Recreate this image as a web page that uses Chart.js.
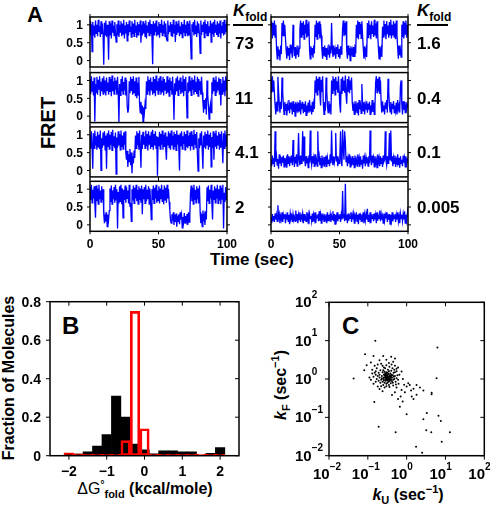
<!DOCTYPE html>
<html>
<head>
<meta charset="utf-8">
<script src="https://cdn.jsdelivr.net/npm/chart.js"></script>
<style>
body { margin: 0; background: #fff; }
#wrap { position: relative; width: 496px; height: 512px; overflow: hidden;
        font-family: "Liberation Sans", Arial, sans-serif; font-weight: bold; color: #000; }
canvas { position: absolute; }
.t { position: absolute; white-space: nowrap; line-height: 1; }
.rot { text-align: center; transform: rotate(-90deg); }
.bar { position: absolute; height: 1.5px; background: #000; }
</style>
</head>
<body>
<div id="wrap">
  <div class="t" style="left:27px;top:4px;font-size:22px">A</div>
  <div class="t rot" style="left:-2px;top:113px;width:100px;font-size:20px">FRET</div>

  <div class="t" style="left:233px;top:2px"><i style="font-size:17px">K</i><span style="font-size:12px;position:relative;top:5px">fold</span></div>
  <div class="bar" style="left:233px;top:24px;width:30px"></div>
  <div class="t" style="left:417px;top:2px"><i style="font-size:17px">K</i><span style="font-size:12px;position:relative;top:5px">fold</span></div>
  <div class="bar" style="left:417px;top:24px;width:31px"></div>

  <div class="t" style="left:152px;top:251px;width:200px;text-align:center;font-size:17px">Time (sec)</div>

  <div class="t" style="left:62px;top:314px;font-size:24px">B</div>
  <div class="t rot" style="left:-91px;top:370px;width:200px;font-size:16px">Fraction of Molecules</div>
  <div class="t" style="left:45px;top:481px;width:200px;text-align:center;font-size:16px"><span style="font-weight:normal">ΔG</span><span style="font-size:10px;position:relative;top:-6px">°</span><span style="font-size:11px;position:relative;top:4px">fold</span> (kcal/mole)</div>

  <div class="t" style="left:342px;top:314px;font-size:24px">C</div>
  <div class="t" style="left:308px;top:487px;width:200px;text-align:center;font-size:16px"><i>k</i><span style="font-size:11px;position:relative;top:4px">U</span> (sec<span style="font-size:11px;position:relative;top:-7px">−1</span>)</div>
  <div class="t rot" style="left:181px;top:377px;width:200px;font-size:16px"><i>k</i><span style="font-size:11px;position:relative;top:4px">F</span> (sec<span style="font-size:11px;position:relative;top:-7px">−1</span>)</div>
</div>

<script>
// ---- panel A: FRET traces, two values per second over 100 s ----
const fret73 = [1.1,0.72,1.02,0.25,1.08,0.7,0.98,0.64,1.12,0.76,1.0,0.68,1.14,0.8,0.96,0.66,1.1,0.74,1.04,0.7,
  -0.12,1.06,0.72,1.12,0.66,1.0,0.8,0.02,1.1,0.7,1.04,0.62,1.12,0.78,0.98,0.7,1.08,0.76,0.52,1.02,
  0.7,1.12,0.66,1.0,0.8,1.1,0.68,1.04,0.74,1.14,0.62,0.98,0.76,1.08,0.55,1.02,0.7,1.12,0.8,0.96,
  0.66,1.1,0.74,1.04,0.68,1.14,0.78,0.98,0.64,1.08,0.72,1.02,0.8,1.12,0.5,1.0,0.7,1.1,0.76,1.04,
  0.68,1.12,0.62,0.98,0.78,1.08,0.7,1.14,0.74,1.02,0.66,-0.1,1.1,0.72,1.04,0.8,1.12,0.68,0.96,0.74,
  1.08,0.64,1.02,0.78,1.14,0.7,1.0,0.76,1.1,0.68,1.04,0.62,0.55,1.12,0.74,0.98,0.8,1.08,0.7,1.02,
  0.66,1.14,0.76,1.0,0.52,1.1,0.72,1.04,0.8,1.12,0.68,0.96,0.74,1.08,0.64,1.02,0.78,1.14,0.7,1.0,
  0.76,1.1,0.68,1.04,0.72,1.12,0.62,0.05,1.02,0.8,1.08,0.7,1.14,0.74,0.98,0.66,1.1,0.78,1.04,0.7,
  0.2,1.12,0.72,1.0,0.8,1.08,0.64,1.14,0.76,1.02,0.7,1.1,0.68,0.96,0.78,1.12,0.52,1.04,0.74,1.08,
  0.66,1.14,0.8,1.0,0.72,1.1,0.68,1.04,0.76,1.12,0.62,0.98,0.78,1.08,0.7,1.14,0.74,1.02,0.8,1.1];
const fret11 = [1.05,0.62,1.12,0.7,0.98,0.58,1.08,-0.15,0.9,0.66,1.1,0.6,1.02,0.74,1.12,0.56,0.96,0.7,1.06,0.62,
  1.12,0.66,1.0,0.58,1.08,0.72,0.94,0.6,1.1,0.68,1.04,0.56,1.14,0.7,0.98,0.62,1.08,0.74,1.0,0.6,
  1.1,0.66,-0.18,0.9,0.58,1.04,0.7,1.12,0.62,0.96,0.72,1.08,0.58,1.02,0.3,0.1,0.2,0.98,0.64,1.1,
  0.72,1.04,0.6,1.12,0.66,0.98,0.56,1.08,0.5,0.94,0.6,1.1,0.35,0.1,0.4,0.05,0.3,-0.15,0.25,0.1,
  0.35,0.2,0.98,0.62,1.12,0.7,1.02,0.58,1.08,0.74,0.96,0.6,1.1,0.66,1.04,0.56,1.14,0.72,0.98,0.62,
  1.06,0.7,1.12,0.6,1.0,0.68,1.1,0.58,1.04,0.74,0.94,0.62,1.12,0.66,1.02,0.56,1.08,0.72,0.98,0.6,
  1.1,0.66,-0.1,0.92,0.6,1.06,0.7,1.12,0.58,1.0,0.74,1.08,0.62,0.96,0.68,1.14,0.56,1.04,0.72,1.1,
  0.6,-0.05,0.94,0.66,1.12,0.7,1.0,0.58,1.08,0.74,1.02,0.6,1.14,0.68,0.96,0.62,1.1,0.56,1.04,0.72,
  0.98,0.6,1.1,0.66,0.4,0.1,0.45,0.2,0.5,0.05,1.0,0.6,0.3,-0.08,0.2,0.35,0.1,0.95,0.62,1.08,
  0.7,1.02,0.58,1.12,0.66,0.96,0.74,1.08,0.6,1.04,0.3,0.92,0.62,1.1,0.68,1.0,0.56,1.12,0.72,1.06];
const fret41 = [1.0,0.6,1.1,0.68,0.05,1.04,0.62,1.12,0.7,0.96,0.58,1.08,0.66,1.0,0.6,1.12,0.0,0.9,0.64,1.06,
  0.7,1.1,0.58,0.98,0.05,1.04,0.66,1.12,0.6,1.0,0.72,1.08,0.56,1.14,0.68,0.96,0.62,1.06,-0.1,0.92,
  0.64,1.1,0.7,1.02,0.58,1.12,0.66,0.98,0.6,1.06,0.72,1.1,0.5,0.3,0.55,0.1,0.45,0.25,0.6,0.15,
  0.5,-0.08,0.4,0.2,0.55,0.35,0.98,0.62,1.1,0.7,1.04,0.58,1.12,0.66,0.08,1.0,0.6,1.08,0.72,0.96,
  0.62,1.12,0.68,1.02,0.56,1.1,0.74,0.98,0.6,1.08,0.66,1.14,0.58,1.02,0.7,1.1,0.62,0.96,-0.15,0.94,
  0.68,1.08,0.6,1.02,0.72,1.12,0.58,1.0,0.66,1.06,0.62,0.3,0.95,0.7,1.1,0.64,1.04,0.58,1.12,0.7,
  0.98,0.6,1.08,0.66,1.02,0.56,1.12,0.72,1.0,0.62,0.0,1.04,0.68,1.1,0.6,0.96,0.74,1.08,0.58,1.02,
  0.66,1.12,0.62,0.98,0.7,1.06,0.56,1.1,0.68,1.0,0.6,1.14,0.72,1.02,0.64,1.08,0.45,-0.02,0.9,0.62,
  1.04,0.7,1.1,0.58,0.05,0.98,0.66,1.08,0.6,1.02,0.72,1.12,0.58,1.0,0.66,1.06,0.1,0.94,0.62,1.1,
  0.3,1.04,0.68,1.12,0.6,0.98,0.72,1.08,0.58,1.02,0.64,1.1,0.7,0.2,1.04,0.62,1.12,0.66,1.0,0.7];
const fret2 = [1.05,0.7,1.12,0.62,0.98,0.74,1.08,0.6,0.2,1.1,0.66,1.02,0.58,1.12,0.72,0.96,0.64,1.08,0.7,1.0,
  0.3,0.05,0.25,0.1,0.35,-0.05,0.28,0.15,0.4,1.02,0.64,1.1,0.58,0.96,0.72,1.06,0.62,1.12,0.7,1.0,
  -0.1,0.92,0.6,1.08,0.66,1.12,0.58,1.02,0.2,0.98,0.7,1.1,0.62,1.06,0.74,0.96,0.6,1.12,0.5,0.62,
  0.1,1.0,0.68,1.1,0.6,1.04,0.74,1.12,0.66,0.98,0.58,1.08,0.7,1.02,0.62,1.1,0.3,1.0,0.72,1.06,
  0.6,1.12,0.66,0.98,0.72,1.08,0.58,1.02,0.64,0.15,1.0,0.7,1.1,0.6,1.04,0.74,1.12,0.62,0.96,0.68,
  1.08,0.6,1.02,0.72,1.12,0.66,0.98,0.58,1.1,0.7,1.04,0.62,1.12,0.74,1.0,0.64,0.4,0.12,0.05,0.3,
  0.12,0.35,0.0,0.28,0.08,0.32,-0.05,0.25,0.1,0.3,0.02,0.35,0.15,0.28,-0.08,0.22,0.1,0.33,0.05,0.25,
  0.12,0.3,0.0,0.35,0.08,0.25,0.9,1.1,0.66,1.04,0.58,1.12,0.7,0.98,0.62,1.08,0.72,1.02,0.6,1.1,
  0.35,0.05,0.3,-0.05,0.4,0.1,0.25,0.0,0.38,0.15,1.05,0.66,1.1,0.6,0.98,0.74,1.12,0.62,0.15,0.96,
  0.7,1.08,0.62,1.02,0.74,1.12,0.6,1.0,0.68,1.1,0.58,1.04,0.72,1.12,-0.1,0.9,0.64,1.06,0.7,1.0];
const fret16 = [0.9,1.1,0.62,1.05,0.7,1.12,0.66,1.0,0.35,0.05,0.4,0.12,0.3,0.0,0.42,0.18,1.05,0.68,1.12,0.7,
  1.0,0.62,0.3,0.05,0.4,0.15,0.35,0.02,0.45,0.2,0.3,0.08,1.0,0.4,0.12,0.38,0.05,0.3,0.18,0.42,
  0.1,0.35,0.9,1.12,0.66,1.05,0.72,1.1,0.6,1.0,0.76,1.14,0.64,1.04,0.7,1.1,0.3,0.05,0.4,0.15,
  0.35,0.08,0.42,0.2,1.0,0.66,1.12,0.6,1.06,0.74,1.1,0.62,1.02,0.7,0.3,0.05,0.38,0.15,0.42,0.1,
  0.35,0.02,0.3,0.18,0.45,0.08,0.4,0.2,1.05,0.35,0.1,0.42,0.15,0.3,0.05,0.38,0.2,0.45,0.1,0.32,
  0.05,0.4,0.18,0.35,0.9,1.12,0.68,1.05,0.72,1.1,0.3,0.05,0.42,0.15,0.35,0.0,0.4,0.2,0.3,0.1,
  0.38,0.12,0.45,0.2,1.0,0.66,1.12,0.6,1.08,0.74,1.02,0.62,1.1,0.7,0.35,0.05,0.4,0.15,0.3,0.1,
  1.05,0.64,1.12,0.72,1.0,0.6,1.1,0.76,0.98,0.66,1.14,0.7,1.04,0.62,1.1,0.74,0.35,0.05,0.4,0.15,
  0.3,0.1,0.95,0.66,1.12,0.7,1.02,0.6,1.1,0.74,0.98,0.64,1.08,0.72,1.14,0.62,1.0,0.7,1.1,0.66,
  1.04,0.6,1.12,0.72,0.35,0.05,0.42,0.15,0.3,0.1,1.0,0.66,1.1,0.62,1.06,0.74,1.12,0.64,1.0,0.7];
const fret04 = [1.05,0.66,1.12,0.7,1.0,0.62,0.3,0.05,0.4,0.15,1.1,0.7,0.35,0.1,0.4,0.2,1.08,0.66,0.3,0.05,
  0.4,0.15,0.35,0.02,0.3,0.18,0.45,0.08,0.38,0.2,0.3,0.05,0.42,0.12,0.35,0.0,0.4,0.18,0.3,0.1,
  0.38,0.15,0.45,0.05,0.3,0.2,0.4,0.08,0.35,0.12,0.42,0.02,0.3,0.18,0.38,0.1,0.45,0.15,0.3,0.05,
  0.4,0.12,0.35,0.2,1.0,0.66,1.12,0.6,1.05,0.72,1.1,0.62,0.3,1.02,0.68,1.12,0.35,0.05,0.4,0.15,
  1.08,0.7,0.3,0.1,0.42,0.2,0.35,0.05,1.0,0.64,1.12,0.72,1.05,0.6,1.1,0.74,0.98,0.66,1.12,0.7,
  0.3,0.1,1.05,0.62,1.1,0.72,1.0,0.66,1.14,0.6,0.35,1.04,0.7,1.12,0.64,1.0,0.74,1.08,0.4,0.15,
  0.35,0.05,0.42,0.18,0.3,0.1,0.38,0.02,0.45,0.2,0.3,0.08,0.9,0.35,0.15,0.4,0.05,0.32,0.2,0.42,
  0.1,0.35,0.18,0.4,0.05,0.3,0.2,0.45,0.12,0.38,0.05,0.3,0.95,1.12,0.66,1.05,0.7,1.1,0.62,1.0,
  0.35,0.1,0.42,0.15,0.3,0.05,0.38,0.2,0.45,0.1,1.05,0.7,0.3,0.12,0.4,0.05,0.35,0.2,0.42,0.1,
  0.3,0.15,0.38,0.05,0.45,0.2,0.3,0.1,0.85,1.0,0.35,0.05,0.42,0.18,0.3,0.1,0.4,0.2,0.32,0.25];
const fret01 = [0.3,0.12,0.42,0.2,0.35,0.1,1.1,0.25,0.4,0.15,0.32,0.05,0.45,0.2,0.3,0.12,0.38,0.22,0.42,0.1,
  0.35,0.18,0.3,0.08,0.45,0.2,0.4,0.12,0.32,0.22,0.42,0.15,0.85,0.3,0.1,0.38,0.2,0.45,0.12,0.3,
  1.05,0.3,0.15,0.42,0.2,0.35,1.1,0.25,0.95,0.3,0.12,0.4,0.2,0.35,0.08,0.42,0.22,1.12,0.3,0.15,
  0.4,0.2,0.35,0.1,0.45,0.22,0.3,0.12,1.1,0.25,0.4,0.15,0.35,0.08,0.42,0.2,0.3,0.12,0.38,0.22,
  0.42,0.1,0.35,0.2,0.3,0.12,0.45,0.2,1.12,0.3,0.15,0.4,0.22,0.35,1.05,0.25,0.4,0.12,0.3,0.2,
  0.38,1.1,0.3,0.12,1.15,0.6,0.3,1.1,0.8,0.25,0.4,0.12,0.35,0.2,0.45,0.1,0.3,0.22,0.4,0.15,
  0.35,0.08,0.42,0.2,0.3,0.12,0.45,0.22,0.35,0.1,0.4,0.18,0.3,0.05,0.42,0.2,0.35,0.12,0.38,0.25,
  0.3,0.12,0.4,0.2,1.12,0.3,0.15,0.42,0.22,0.35,0.1,0.4,0.2,0.3,0.08,0.45,0.22,0.35,0.12,0.4,
  0.2,0.35,0.1,0.42,0.25,0.3,1.1,0.3,0.15,0.4,0.2,0.35,1.05,0.3,1.12,0.25,0.4,0.12,0.35,0.2,
  0.42,0.1,0.3,0.22,0.45,0.15,0.35,0.08,0.4,0.2,0.3,0.12,0.42,0.22,0.35,0.1,0.4,0.18,0.3,0.25];
const fret0005 = [0.2,0.05,0.3,0.12,0.25,0.08,0.32,0.15,0.28,0.1,0.55,0.2,0.3,0.05,0.25,0.15,0.35,0.08,0.28,0.18,
  0.3,0.05,0.25,0.15,0.35,0.1,0.28,0.02,0.32,0.18,0.25,0.08,0.3,0.15,0.22,0.1,0.4,0.12,0.3,0.05,
  0.28,0.15,0.35,0.08,0.25,0.18,0.32,0.05,0.3,0.12,0.22,0.1,0.35,0.15,0.28,0.02,0.3,0.18,0.25,0.1,
  0.32,0.08,0.28,0.15,0.35,0.05,0.25,0.2,0.3,0.1,0.38,0.12,0.28,0.05,0.32,0.18,0.25,0.1,0.3,0.15,
  0.22,0.05,0.35,0.12,0.28,0.18,0.3,0.08,0.25,0.15,0.38,0.1,0.3,0.02,0.28,0.15,0.35,0.1,0.25,0.18,
  0.3,0.08,0.28,0.15,0.95,0.2,0.3,0.1,1.15,0.15,0.28,0.05,0.32,0.12,0.25,0.18,0.35,0.08,0.28,0.15,
  0.3,0.05,0.25,0.18,0.35,0.1,0.28,0.02,0.32,0.15,0.25,0.1,0.3,0.18,0.35,0.05,0.28,0.12,0.3,0.15,
  0.45,0.1,0.28,0.15,0.35,0.05,0.25,0.18,0.3,0.1,0.32,0.15,0.28,0.05,0.35,0.12,0.25,0.18,0.4,0.1,
  0.3,0.15,0.25,0.05,0.32,0.12,0.28,0.18,0.35,0.08,0.25,0.15,0.3,0.02,0.28,0.12,0.35,0.1,0.25,0.18,
  0.3,0.08,0.28,0.15,0.35,0.1,0.25,0.05,0.32,0.18,0.28,0.1,0.3,0.15,0.38,0.05,0.28,0.12,0.3,0.5];
const kfoldLeft = ['73', '11', '4.1', '2'];
const kfoldRight = ['1.6', '0.4', '0.1', '0.005'];
const fretTicks = [0, 0.5, 1];
const fretTickLabels = ['0', '0.5', '1'];
const timeTicks = [0, 50, 100];
const timeTickLabels = ['0', '50', '100'];

// ---- panel B: histogram of dG fold ----
const dGBins = [-2, -1.75, -1.5, -1.25, -1, -0.75, -0.5, -0.25, 0, 0.25, 0.5, 0.75, 1, 1.25, 1.5, 1.75, 2];
const fracBlack = [0.01, 0.008, 0.02, 0.05, 0.11, 0.31, 0.2, 0.06, 0.03, 0.01, 0.025, 0.025, 0.02, 0.02, 0, 0.012, 0.042];
const fracRed = [0.015, 0.01, 0.008, 0.008, 0.008, 0.008, 0.078, 0.75, 0.14, 0.008, 0.008, 0.008, 0.008, 0.008, 0.008, 0.008, 0.008];
const dGTicks = [-2, -1, 0, 1, 2];
const dGTickLabels = ['\u22122', '\u22121', '0', '1', '2'];
const fracTicks = [0, 0.2, 0.4, 0.6, 0.8];
const fracTickLabels = ['0', '0.2', '0.4', '0.6', '0.8'];

// ---- panel C: folding vs unfolding rates ----
const kU = [0.156,0.085,0.043,6.2,5.9,0.081,0.093,0.14,0.25,0.5,
  0.147,0.18,0.19,0.52,1.0,1.75,2.5,3.2,4.3,2.7,
  3.3,6.6,7.6,13,8,4.4,4.4,2.7,1.8,1.5,
  1.2,1.5,0.74,0.79,0.67,0.86,1.0,1.1,1.8,1.35,
  0.74,0.6,0.7,0.9,2.2,1.3,0.55,0.62,0.12,0.2,
  0.3,0.35,0.4,0.13,0.11,0.16,0.45,0.6,0.55,0.65,
  0.8,0.17,0.15,0.22,0.12,0.14,0.2,0.24,0.5,0.42,
  0.3,0.32,0.28,0.35,0.31,0.27,0.33,0.36,0.29,0.34,
  0.26,0.38,0.3,0.25,0.4,0.37,0.32,0.28,0.23,0.42,
  0.3,0.35,0.27,0.45,0.22,0.2,0.24,0.38,0.41,0.33,
  0.29,0.31,0.34,0.36,0.26,0.39,0.3,0.35,0.44,0.48,
  0.5,0.46,0.2,0.19,0.21,0.18,0.17,0.25,0.28,0.33,
  0.4,0.43,0.52,0.55,0.5,0.3,0.36,0.25,0.22,0.27,
  0.32,0.37,0.34,0.29,0.31,0.28,0.33,0.35,0.3,0.32,
  0.26,0.38,0.4,0.24,0.23,0.47,0.44,0.42,0.19,0.16,
  0.16,0.21,0.26,0.36,0.3,0.48,0.58,0.6,0.53,0.45,
  0.39,0.27,0.14,0.15,0.13,0.18,0.24,0.41,0.5,0.55];
const kF = [10,4.4,1.03,6.6,1.05,1.7,2.3,3.97,4.0,3.4,
  0.25,0.64,0.057,0.041,0.12,0.017,0.012,0.046,0.041,0.089,
  0.13,0.11,0.08,0.041,0.023,0.4,0.44,0.5,0.39,0.56,
  0.7,0.3,0.52,0.26,0.19,0.71,0.64,0.78,0.7,0.35,
  1.57,0.3,0.35,0.45,0.6,0.5,0.6,0.75,2.7,3.1,
  3.2,2.6,3.8,1.4,1.1,0.85,2.8,2.0,1.6,1.3,
  1.0,1.9,2.2,2.5,0.95,0.75,0.55,0.48,0.45,0.38,
  1.1,1.2,1.0,1.05,0.95,1.25,1.3,1.15,0.9,0.85,
  1.1,1.0,1.35,1.0,1.2,0.9,0.8,1.4,1.2,1.1,
  1.5,1.6,0.8,0.95,0.95,1.1,1.5,1.4,1.3,1.0,
  1.18,1.06,1.12,0.98,0.92,1.08,0.75,0.7,0.8,1.0,
  1.2,1.45,1.3,0.9,0.8,1.2,1.0,1.7,1.9,1.75,
  1.65,1.9,0.85,1.05,1.5,0.65,0.62,0.7,0.65,1.55,
  1.45,1.25,1.38,1.28,1.22,1.12,0.92,0.88,1.02,1.08,
  1.32,1.18,0.95,0.85,1.05,1.15,1.25,0.88,1.45,1.3,
  1.6,1.7,2.0,2.1,2.3,1.75,1.25,0.95,0.72,0.68,
  0.78,0.6,1.15,1.45,1.75,2.4,2.2,2.4,2.2,1.85];
const rateTicks = [0.01, 0.1, 1, 10, 100];
const rateExp = ['\u22122', '\u22121', '0', '1', '2'];

const FONT = '"Liberation Sans", Arial, sans-serif';
const wrap = document.getElementById('wrap');

function makeCanvas(left, top, w, h) {
  const c = document.createElement('canvas');
  c.width = w; c.height = h;
  c.style.left = left + 'px'; c.style.top = top + 'px';
  c.style.width = w + 'px'; c.style.height = h + 'px';
  wrap.appendChild(c);
  return c;
}

// box, tick marks and tick labels, matlab style
const framePlugin = {
  id: 'frame',
  afterDatasetsDraw(chart, args, o) {
    const {ctx, chartArea: a} = chart;
    const xs = chart.scales.x, ys = chart.scales.y;
    const L = o.tickLen;
    ctx.save();
    ctx.strokeStyle = '#000';
    ctx.lineWidth = 1;
    ctx.beginPath();
    o.xTicks.forEach(v => {
      const p = xs.getPixelForValue(v);
      ctx.moveTo(p, a.bottom); ctx.lineTo(p, a.bottom + L * o.dir[3]);
      ctx.moveTo(p, a.top); ctx.lineTo(p, a.top - L * o.dir[1]);
    });
    o.yTicks.forEach(v => {
      const p = ys.getPixelForValue(v);
      ctx.moveTo(a.left, p); ctx.lineTo(a.left - L * o.dir[0], p);
      ctx.moveTo(a.right, p); ctx.lineTo(a.right + L * o.dir[2], p);
    });
    ctx.stroke();
    ctx.lineWidth = o.border;
    ctx.strokeRect(a.left, a.top, a.right - a.left, a.bottom - a.top);

    ctx.fillStyle = '#000';
    ctx.font = 'bold ' + o.fontSize + 'px ' + FONT;
    if (o.yLabels) {
      ctx.textAlign = 'right'; ctx.textBaseline = 'middle';
      o.yLabels.forEach((t, i) => ctx.fillText(t, a.left - o.yGap, ys.getPixelForValue(o.yTicks[i]) + 1));
    }
    if (o.xLabels) {
      ctx.textAlign = 'center'; ctx.textBaseline = 'middle';
      o.xLabels.forEach((t, i) => ctx.fillText(t, xs.getPixelForValue(o.xTicks[i]), a.bottom + o.xGap));
    }
    if (o.powLabels) {
      const small = 'bold 10px ' + FONT, big = 'bold ' + o.fontSize + 'px ' + FONT;
      ctx.textAlign = 'left'; ctx.textBaseline = 'middle';
      o.powLabels.forEach((e, i) => {
        ctx.font = big;
        const w = ctx.measureText('10').width;
        const py = ys.getPixelForValue(o.yTicks[i]);
        ctx.fillText('10', a.left - 34, py + 1);
        ctx.font = small; ctx.fillText(e, a.left - 34 + w, py - 7);
        const px = xs.getPixelForValue(o.xTicks[i]);
        ctx.font = big; ctx.fillText('10', px - 16, a.bottom + 19.5);
        ctx.font = small; ctx.fillText(e, px - 16 + w, a.bottom + 12);
      });
    }
    ctx.restore();
  }
};

const baseOpts = {
  responsive: false, animation: false, devicePixelRatio: 1, events: []
};

// ---- panel A ----
const colLeft = [90, 271];
const rowTop = [17, 72.6, 126.9, 181.3];
const rowH = 50;
const boxW = 137;
const traceSets = [[fret73, fret11, fret41, fret2], [fret16, fret04, fret01, fret0005]];

traceSets.forEach((col, c) => {
  col.forEach((vals, r) => {
    const last = r === 3;
    const padL = c === 0 ? 34 : 8, padR = 14, padB = last ? 26 : 6;
    const cTop = Math.floor(rowTop[r]) - 6;
    const padT = rowTop[r] - cTop;
    const cH = Math.ceil(padT + rowH + padB);
    const cv = makeCanvas(colLeft[c] - padL, cTop, boxW + padL + padR, cH);
    new Chart(cv, {
      type: 'line',
      data: {
        datasets: [{
          data: vals.map((v, i) => ({x: i * 100 / (vals.length - 1), y: v})),
          borderColor: '#0000ff', borderWidth: 1.3, pointRadius: 0, tension: 0
        }]
      },
      options: {
        ...baseOpts,
        layout: {padding: {left: padL, right: padR, top: padT, bottom: cH - padT - rowH}},
        plugins: {
          legend: {display: false}, tooltip: {enabled: false},
          frame: {
            xTicks: timeTicks, yTicks: fretTicks, tickLen: 3, dir: [1, 1, 1, 1], border: 1.5,
            fontSize: 12, yGap: 7, xGap: 13,
            yLabels: c === 0 ? fretTickLabels : null,
            xLabels: last ? timeTickLabels : null
          }
        },
        scales: {
          x: {type: 'linear', min: 0, max: 100, display: false},
          y: {min: -0.18, max: 1.22, display: false}
        }
      },
      plugins: [framePlugin]
    });
    const lab = document.createElement('div');
    lab.className = 't';
    lab.style.fontSize = '17px';
    lab.style.left = (c === 0 ? 235 : 417) + 'px';
    lab.style.top = (rowTop[r] + rowH / 2 - 7.5) + 'px';
    lab.textContent = (c === 0 ? kfoldLeft : kfoldRight)[r];
    wrap.appendChild(lab);
  });
});

// ---- panel B ----
const cvB = makeCanvas(0, 290, 250, 222);
new Chart(cvB, {
  type: 'bar',
  data: {
    datasets: [
      {data: dGBins.map((x, i) => ({x, y: fracRed[i]})), backgroundColor: 'rgba(0,0,0,0)',
       borderColor: '#ff0000', borderWidth: 2, borderSkipped: false},
      {data: dGBins.map((x, i) => ({x, y: fracBlack[i]})), backgroundColor: '#000', borderWidth: 0}
    ]
  },
  options: {
    ...baseOpts,
    grouped: false,
    barPercentage: 1, categoryPercentage: 1,
    layout: {padding: {left: 50, right: 11, top: 11.7, bottom: 56.3}},
    plugins: {
      legend: {display: false}, tooltip: {enabled: false},
      frame: {
        xTicks: dGTicks, yTicks: fracTicks, tickLen: 4, dir: [1, -1, -1, 1], border: 1.5,
        fontSize: 14, yGap: 9, xGap: 16.5, yLabels: fracTickLabels, xLabels: dGTickLabels
      }
    },
    scales: {
      x: {type: 'linear', min: -2.5, max: 2.5, offset: false, display: false},
      y: {min: 0, max: 0.8, display: false}
    }
  },
  plugins: [framePlugin]
});

// ---- panel C ----
const cvC = makeCanvas(290, 290, 206, 222);
new Chart(cvC, {
  type: 'scatter',
  data: {
    datasets: [{
      data: kU.map((u, i) => ({x: u, y: kF[i]})),
      pointRadius: 1, backgroundColor: '#000', borderWidth: 0
    }]
  },
  options: {
    ...baseOpts,
    layout: {padding: {left: 39, right: 11.7, top: 12.3, bottom: 56.3}},
    plugins: {
      legend: {display: false}, tooltip: {enabled: false},
      frame: {
        xTicks: rateTicks, yTicks: rateTicks, tickLen: 4, dir: [1, -1, -1, 1], border: 1.5,
        fontSize: 15, powLabels: rateExp
      }
    },
    scales: {
      x: {type: 'logarithmic', min: 0.01, max: 100, display: false},
      y: {type: 'logarithmic', min: 0.01, max: 100, display: false}
    }
  },
  plugins: [framePlugin]
});
</script>
</body>
</html>
